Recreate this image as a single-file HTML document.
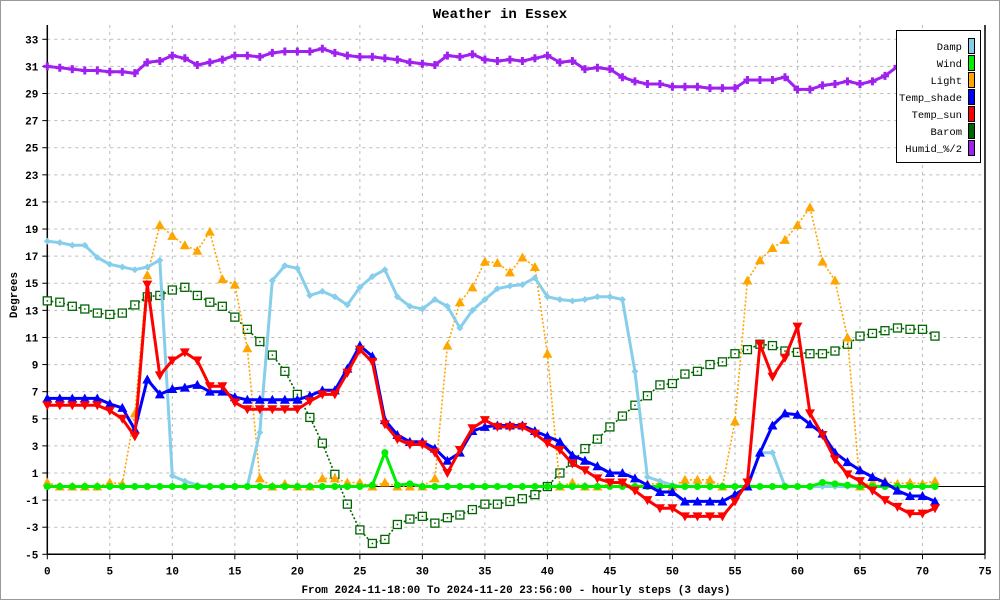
<!DOCTYPE html>
<html><head><meta charset="utf-8"><style>
html,body{margin:0;padding:0;background:#fff}
svg{display:block;font-family:"Liberation Mono",monospace}
</style></head><body>
<svg id="chart" width="1000" height="600" viewBox="0 0 1000 600">
<rect x="0.5" y="0.5" width="999" height="599" fill="#fff" stroke="#999"/>
<text x="500" y="18" text-anchor="middle" font-size="14" font-weight="bold">Weather in Essex</text>
<g id="grid"></g>
<g id="axes"></g>
<g id="series"></g>
<text x="17" y="295" text-anchor="middle" font-size="11" font-weight="bold" transform="rotate(-90 17 295)">Degrees</text>
<text x="516" y="593" text-anchor="middle" font-size="11" font-weight="bold">From 2024-11-18:00 To 2024-11-20 23:56:00 - hourly steps (3 days)</text>
<g id="legend"></g>
</svg>
<script>
const xTicks=[0,5,10,15,20,25,30,35,40,45,50,55,60,65,70,75];
const yTicks=[-5,-3,-1,1,3,5,7,9,11,13,15,17,19,21,23,25,27,29,31,33];
const seriesNames=["Damp","Wind","Light","Temp_shade","Temp_sun","Barom","Humid_%/2"];
const damp=[18.1,18.0,17.8,17.8,16.9,16.4,16.2,16.0,16.2,16.7,0.8,0.4,0.1,0,0,0,0,4,15.2,16.3,16.1,14.1,14.4,14.0,13.4,14.7,15.5,16.0,14.0,13.3,13.1,13.8,13.3,11.7,13.0,13.8,14.6,14.8,14.9,15.4,14.0,13.8,13.7,13.8,14.0,14.0,13.8,8.5,0.7,0.4,0.1,0,0,0,0,0,0,2.5,2.5,0,0,0,0,0,0,0,0,0,0,0,0,0];
const wind=[0,0,0,0,0,0,0,0,0,0,0,0,0,0,0,0,0,0,0,0,0,0,0,0,0,0,0.1,2.5,0.1,0.2,0,0,0,0,0,0,0,0,0,0,0,0,0,0,0,0,0,0,0,0,0,0,0,0,0,0,0,0,0,0,0,0,0.3,0.2,0.1,0,0,0,0,0,0,0];
const light=[0.3,0,0,0,0,0.3,0.2,5.4,15.6,19.3,18.5,17.8,17.4,18.8,15.3,14.9,10.2,0.6,0,0.2,0,0,0.6,0.6,0.3,0.3,0,0.3,0,0,0,0.6,10.4,13.6,14.7,16.6,16.5,15.8,16.9,16.2,9.8,0,0.3,0,0,0.2,0.3,0,0.2,0.2,0,0.5,0.5,0.5,0,4.8,15.2,16.7,17.6,18.2,19.3,20.6,16.6,15.2,11.0,0,0.3,0.4,0.2,0.3,0.2,0.4];
const shade=[6.5,6.5,6.5,6.5,6.5,6.1,5.8,4.2,7.9,6.8,7.2,7.3,7.5,7.0,7.0,6.6,6.4,6.4,6.4,6.4,6.4,6.7,7.1,7.1,8.7,10.4,9.6,4.9,3.8,3.3,3.3,2.8,1.9,2.5,4.1,4.4,4.5,4.5,4.5,4.1,3.7,3.3,2.3,1.9,1.5,1.0,1.0,0.6,0.1,-0.4,-0.4,-1.1,-1.1,-1.1,-1.1,-0.6,0,2.5,4.5,5.4,5.3,4.6,3.9,2.5,1.8,1.2,0.7,0.3,-0.3,-0.7,-0.7,-1.1];
const sun=[6,6,6,6,6,5.6,5.0,3.7,14.9,8.2,9.3,9.9,9.3,7.4,7.4,6.2,5.7,5.7,5.7,5.7,5.7,6.3,6.8,6.8,8.4,10.1,9.2,4.6,3.5,3.1,3.1,2.5,1.0,2.7,4.3,4.9,4.4,4.4,4.4,3.9,3.2,2.7,1.7,1.2,0.6,0.3,0.3,-0.3,-1.0,-1.6,-1.6,-2.2,-2.2,-2.2,-2.2,-1.1,0.3,10.5,8.1,9.5,11.8,5.4,3.8,2.0,0.9,0.4,-0.3,-1.0,-1.5,-2.0,-2.0,-1.6];
const barom=[13.7,13.6,13.3,13.1,12.8,12.7,12.8,13.4,14.0,14.1,14.5,14.7,14.1,13.6,13.3,12.5,11.6,10.7,9.7,8.5,6.8,5.1,3.2,0.9,-1.3,-3.2,-4.2,-3.9,-2.8,-2.4,-2.2,-2.7,-2.3,-2.1,-1.7,-1.3,-1.3,-1.1,-0.9,-0.6,0,1.0,1.8,2.8,3.5,4.4,5.2,6.0,6.7,7.5,7.6,8.3,8.5,9.0,9.2,9.8,10.1,10.5,10.4,10.0,9.9,9.8,9.8,10.0,10.5,11.1,11.3,11.5,11.7,11.6,11.6,11.1];
const humid=[31.0,30.9,30.8,30.7,30.7,30.6,30.6,30.5,31.3,31.4,31.8,31.6,31.1,31.3,31.5,31.8,31.8,31.7,32.0,32.1,32.1,32.1,32.3,32.0,31.8,31.7,31.7,31.6,31.5,31.3,31.2,31.1,31.8,31.7,31.9,31.5,31.4,31.5,31.4,31.6,31.8,31.3,31.4,30.8,30.9,30.8,30.2,29.9,29.7,29.7,29.5,29.5,29.5,29.4,29.4,29.4,30.0,30.0,30.0,30.2,29.3,29.3,29.6,29.7,29.9,29.7,29.9,30.3,31.0,31.8,32.0,32.0];

const NS="http://www.w3.org/2000/svg";
const X0=47.3,X1=985,Y0=554.3,Y1=39.3;
function xs(v){return X0+(v-0)*(X1-X0)/75;}
function ys(v){return Y0-(v+5)*(Y0-Y1)/38;}
function mk(tag,attrs,parent){const e=document.createElementNS(NS,tag);for(const k in attrs)e.setAttribute(k,attrs[k]);parent.appendChild(e);return e;}
const grid=document.getElementById('grid'),axes=document.getElementById('axes'),ser=document.getElementById('series'),leg=document.getElementById('legend');
yTicks.forEach(t=>{
  const l=mk('line',{x1:X0,x2:X1,y1:ys(t),y2:ys(t),stroke:'#bbb','stroke-dasharray':'3,4'},grid);
  
  
  const tk=mk('line',{x1:X0-5,x2:X0,y1:ys(t),y2:ys(t),stroke:'#000'},axes);
  
  
  const tx=mk('text',{x:X0-9,y:ys(t)+4,'text-anchor':'end','font-size':'11','font-weight':'bold'},axes);
  tx.textContent=t;
  
  
});
xTicks.forEach(t=>{
  if(t>0&&t<75){const l=mk('line',{x1:xs(t),x2:xs(t),y1:25,y2:Y0,stroke:'#bbb','stroke-dasharray':'3,4'},grid);
  
  }
  const tk=mk('line',{x1:xs(t),x2:xs(t),y1:Y0,y2:Y0+5,stroke:'#000'},axes);
  
  
  const tx=mk('text',{x:xs(t),y:Y0+20,'text-anchor':'middle','font-size':'11','font-weight':'bold'},axes);
  tx.textContent=t;
  
  
});
const al=mk('line',{x1:X0,x2:X0,y1:25,y2:Y0,stroke:'#000','stroke-width':1.5},axes);


const ar=mk('line',{x1:X1,x2:X1,y1:25,y2:Y0,stroke:'#000','stroke-width':1.5},axes);


const ab=mk('line',{x1:X0,x2:X1,y1:Y0,y2:Y0,stroke:'#000','stroke-width':1.5},axes);


const zl=mk('line',{x1:X0,x2:X1,y1:ys(0),y2:ys(0),stroke:'#000','stroke-width':1},axes);



function marker(g,type,x,y,color){
  let e;
  if(type==='circle')e=mk('circle',{cx:x,cy:y,r:3.5,fill:color},g);
  else if(type==='diamond')e=mk('path',{d:`M${x} ${y-3.5}L${x+3.5} ${y}L${x} ${y+3.5}L${x-3.5} ${y}Z`,fill:color},g);
  else if(type==='up')e=mk('path',{d:`M${x} ${y-5}L${x+5} ${y+4}L${x-5} ${y+4}Z`,fill:color},g);
  else if(type==='down')e=mk('path',{d:`M${x} ${y+5}L${x+5} ${y-4}L${x-5} ${y-4}Z`,fill:color},g);
  else if(type==='square'){e=mk('rect',{x:x-4,y:y-4,width:8,height:8,fill:'#fff',stroke:color,'stroke-width':1.3},g);mk('rect',{x:x-0.7,y:y-0.7,width:1.5,height:1.5,fill:color},g);}
  else if(type==='cross')e=mk('path',{d:`M${x-4} ${y}H${x+4}M${x} ${y-4}V${y+4}`,stroke:color,'stroke-width':3},g);
  
  
}
function drawSeries(name,data,color,width,dash,mtype){
  const g=mk('g',{},ser);
  
  
  const pts=data.map((v,i)=>xs(i).toFixed(1)+','+ys(v).toFixed(1)).join(' ');
  const p=mk('polyline',{points:pts,fill:'none',stroke:color,'stroke-width':width,'stroke-linejoin':'round'},g);
  if(dash)p.setAttribute('stroke-dasharray',dash);
  
  
  data.forEach((v,i)=>marker(g,mtype,xs(i),ys(v),color));
}
drawSeries('barom',barom,'#006400',1.6,'2,2','square');
drawSeries('light',light,'#ffa500',1.6,'2,2','up');
drawSeries('damp',damp,'#87ceeb',3,null,'diamond');
drawSeries('wind',wind,'#00ee00',3,null,'circle');
drawSeries('temp-shade',shade,'#0000ff',3,null,'up');
drawSeries('temp-sun',sun,'#ff0000',3,null,'down');
drawSeries('humid',humid,'#a020f0',3,null,'cross');

const colors=['#87ceeb','#00ee00','#ffa500','#0000ff','#ff0000','#006400','#a020f0'];
const lb=mk('rect',{x:896.5,y:30.5,width:84,height:132,fill:'#fff',stroke:'#000'},leg);


seriesNames.forEach((n,i)=>{
  const y=46+i*17;
  const t=mk('text',{x:962,y:y+4,'text-anchor':'end','font-size':'10.5'},leg);
  t.textContent=n;
  
  
  const s=mk('rect',{x:968.5,y:y-7.5,width:6,height:15,fill:colors[i],stroke:'#000'},leg);
  
  
});
</script>
</body></html>
